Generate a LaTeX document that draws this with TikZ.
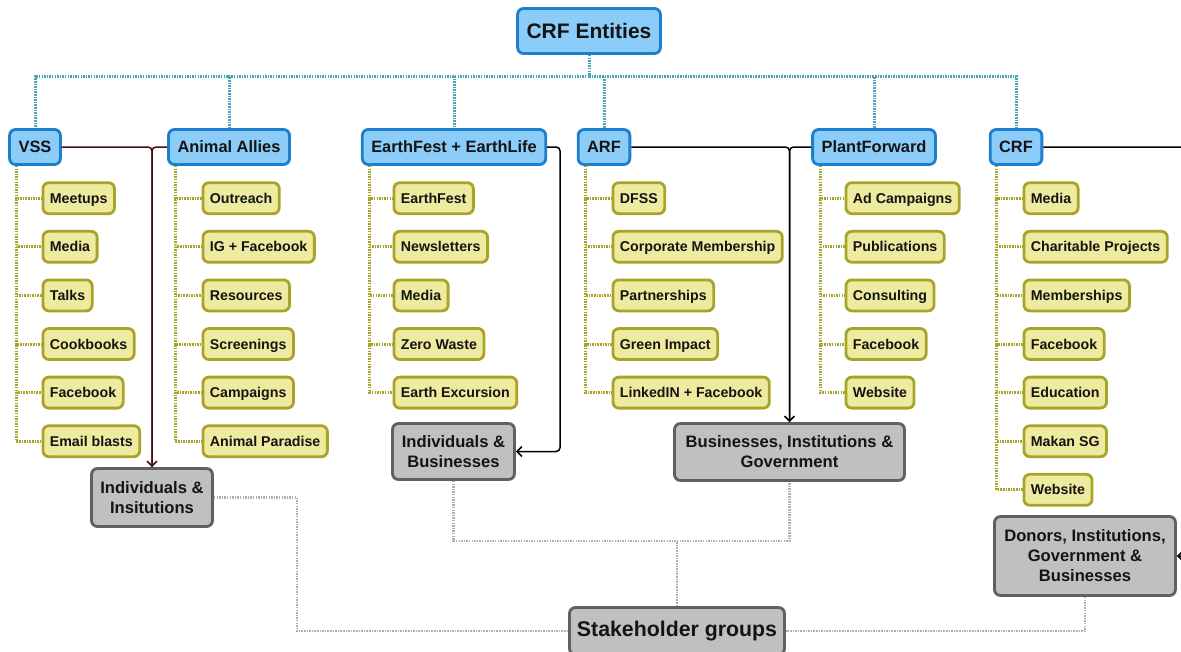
\documentclass[tikz,border=0pt]{standalone}
\usepackage{fontspec}
\setmainfont{Liberation Sans}
\usetikzlibrary{arrows.meta,backgrounds}
\definecolor{bfill}{RGB}{140,204,248}
\definecolor{bdraw}{RGB}{28,126,204}
\definecolor{yfill}{RGB}{238,234,160}
\definecolor{ydraw}{RGB}{168,164,40}
\definecolor{gfill}{RGB}{192,192,192}
\definecolor{gdraw}{RGB}{96,96,96}
\definecolor{bdotc}{RGB}{70,165,185}
\definecolor{gdotc}{RGB}{175,175,175}
\definecolor{maroonc}{RGB}{70,15,15}
\definecolor{txt}{RGB}{20,20,20}
\begin{document}
\begin{tikzpicture}[x=1pt,y=-1pt,
  ent/.style={draw=bdraw,fill=bfill,line width=2.8pt,rounded corners=6pt,
    font=\fontsize{16.4}{19}\selectfont\bfseries,inner xsep=9pt,inner ysep=0pt,
    text height=13.7pt,text depth=2pt,minimum height=35pt,text=txt},
  kid/.style={draw=ydraw,fill=yfill,line width=2.8pt,rounded corners=6pt,
    font=\fontsize{14.2}{17}\selectfont\bfseries,inner xsep=7pt,inner ysep=0pt,
    text height=12pt,text depth=1.8pt,minimum height=31pt,anchor=west,text=txt},
  grp/.style={draw=gdraw,fill=gfill,line width=2.8pt,rounded corners=6pt,
    font=\fontsize{16.6}{20}\selectfont\bfseries,align=center,inner sep=0pt,text=txt},
  bdot/.style={draw=bdotc,line width=3pt,dash pattern=on 1.5pt off 1.1pt},
  ydot/.style={draw=ydraw,line width=3pt,dash pattern=on 1.5pt off 1.1pt},
  gdot/.style={draw=gdotc,line width=2.6pt,dash pattern=on 1.5pt off 1.1pt},
  conn/.style={line width=1.5pt,rounded corners=4pt,-{Straight Barb[length=5pt,width=10pt,line width=1.5pt]}},
]
\useasboundingbox (0,0) rectangle (1181,651);

% top
\node[ent,font=\fontsize{21}{24}\selectfont\bfseries,text height=17pt,text depth=2pt,minimum width=139pt,minimum height=45pt] (top) at (589,31) {CRF Entities};
\coordinate (hub) at (589,76);

% entities
\node[ent] (vss) at (35,147) {VSS};
\node[ent] (aa) at (229,147) {Animal Allies};
\node[ent] (ef) at (454,147) {EarthFest + EarthLife};
\node[ent] (arf) at (604,147) {ARF};
\node[ent] (pf) at (874,147) {PlantForward};
\node[ent] (crf) at (1016,147) {CRF};

% children
\foreach \t [count=\i] in {Meetups,Media,Talks,Cookbooks,Facebook,Email blasts}
  \node[kid] (vss\i) at (41.5,149.6+48.6*\i) {\t};
\foreach \t [count=\i] in {Outreach,IG + Facebook,Resources,Screenings,Campaigns,Animal Paradise}
  \node[kid] (aa\i) at (201.5,149.6+48.6*\i) {\t};
\foreach \t [count=\i] in {EarthFest,Newsletters,Media,Zero Waste,Earth Excursion}
  \node[kid] (ef\i) at (392.5,149.6+48.6*\i) {\t};
\foreach \t [count=\i] in {DFSS,Corporate Membership,Partnerships,Green Impact,LinkedIN + Facebook}
  \node[kid] (arf\i) at (611.5,149.6+48.6*\i) {\t};
\foreach \t [count=\i] in {Ad Campaigns,Publications,Consulting,Facebook,Website}
  \node[kid] (pf\i) at (844.5,149.6+48.6*\i) {\t};
\foreach \t [count=\i] in {Media,Charitable Projects,Memberships,Facebook,Education,Makan SG,Website}
  \node[kid] (crf\i) at (1022.5,149.6+48.6*\i) {\t};

% stakeholder boxes
\node[grp,minimum width=121pt,minimum height=58pt] (ii) at (152,497.5) {Individuals \&\\Insitutions};
\node[grp,minimum width=122pt,minimum height=56pt] (ib) at (453.5,451.5) {Individuals \&\\Businesses};
\node[grp,minimum width=230pt,minimum height=57pt] (big) at (789.5,452) {Businesses, Institutions \&\\Government};
\node[grp,minimum width=181pt,minimum height=79pt] (don) at (1085,556) {Donors, Institutions,\\Government \&\\Businesses};
\node[grp,font=\fontsize{21.3}{24}\selectfont\bfseries,minimum width=215pt,minimum height=47pt] (sh) at (677,631) {Stakeholder groups};

\begin{scope}[on background layer]
  % blue tree
  \draw[bdot] (top.south) -- (hub);
  \foreach \n in {vss,aa,ef,arf,pf,crf}
    \draw[bdot] (hub) -| (\n.north);
  % yellow trees
  \foreach \i in {1,...,6} \draw[ydot] ([xshift=8pt]vss.south west) |- (vss\i.west);
  \foreach \i in {1,...,6} \draw[ydot] ([xshift=8pt]aa.south west) |- (aa\i.west);
  \foreach \i in {1,...,5} \draw[ydot] ([xshift=9pt]ef.south west) |- (ef\i.west);
  \foreach \i in {1,...,5} \draw[ydot] ([xshift=9pt]arf.south west) |- (arf\i.west);
  \foreach \i in {1,...,5} \draw[ydot] ([xshift=9pt]pf.south west) |- (pf\i.west);
  \foreach \i in {1,...,7} \draw[ydot] ([xshift=8pt]crf.south west) |- (crf\i.west);
  % gray dotted to stakeholder groups
  \draw[gdot] (ii.east) -- ++(83,0) |- (sh.west);
  \draw[gdot] (ib.south) -- ++(0,60) -| (big.south);
  \draw[gdot] (sh.north) -- ++(0,-65);
  \draw[gdot] (don.south) |- (sh.east);
\end{scope}

% arrows
\draw[conn,draw=maroonc] (vss.east) -| (ii.north);
\draw[line width=1.5pt,rounded corners=4pt,draw=maroonc] (aa.west) -| (ii.north);
\draw[conn] (ef.east) -- ++(13,0) |- (ib.east);
\draw[conn] (arf.east) -| (big.north);
\draw[line width=1.5pt,rounded corners=4pt] (pf.west) -| (big.north);
\draw[conn] (crf.east) -- (1192,147) |- (don.east);
\end{tikzpicture}
\end{document}
